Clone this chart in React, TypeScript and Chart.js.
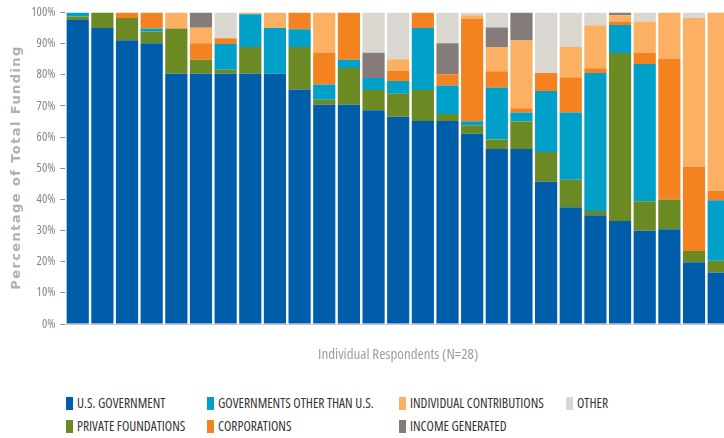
import React, { useEffect, useRef } from 'react';
import { Chart, registerables } from 'chart.js';

Chart.register(...registerables);

const categories = ['1','2','3','4','5','6','7','8','9','10','11','12','13','14','15','16','17','18','19','20','21','22','23','24','25','26','27'];

const usGovernment = [97.6,95.0,91.1,90.1,80.3,80.3,80.3,80.3,80.3,75.3,70.4,70.4,68.6,66.5,65.2,65.2,61.1,56.2,56.2,45.7,37.5,34.9,33.1,29.9,30.4,19.8,16.5];
const privateFoundations = [1.1,5.0,7.1,3.8,14.6,4.5,1.3,8.6,0,13.6,1.6,11.8,6.5,7.4,9.9,2.2,2.7,3.0,8.8,9.5,8.8,1.4,53.9,9.5,9.6,3.6,3.8];
const governmentsOther = [1.3,0,0,1.0,0,0,8.3,10.5,14.7,5.7,4.9,2.6,3.9,4.1,19.9,9.2,1.3,16.7,2.9,19.6,21.6,44.3,9.0,44.1,0,0,19.4];
const corporations = [0,0,1.8,5.1,0,5.3,1.8,0,0,5.4,10.1,15.2,0,3.2,5.0,3.6,32.8,5.2,1.4,5.8,11.3,1.5,1.1,3.6,45.1,27.0,3.0];
const individualContributions = [0,0,0,0,5.1,5.0,0,0.6,5.0,0,13.0,0,0,3.8,0,0,1.2,7.8,21.7,0,9.7,13.8,2.0,10.0,14.9,47.8,57.3];
const incomeGenerated = [0,0,0,0,0,4.9,0,0,0,0,0,0,8.1,0,0,9.9,0,6.3,9.0,0,0,0,0.9,0,0,0,0];
const other = [0,0,0,0,0,0,8.3,0,0,0,0,0,12.9,15.0,0,9.9,0.9,4.8,0,19.4,11.1,4.1,0,2.9,0,1.8,0];

const yTickLabels = ['0%','10%','20%','30%','40%','50%','60%','70%','80%','90%','100%'];

const seriesNames = ['U.S. GOVERNMENT','PRIVATE FOUNDATIONS','GOVERNMENTS OTHER THAN U.S.','CORPORATIONS','INDIVIDUAL CONTRIBUTIONS','INCOME GENERATED','OTHER'];
const seriesColors = ['#005DAA','#6C8A24','#00A0C9','#F58220','#FBB064','#857C79','#D9D7CF'];
const seriesData = [usGovernment, privateFoundations, governmentsOther, corporations, individualContributions, incomeGenerated, other];

const FAMILY = '"Open Sans", "Liberation Sans", sans-serif';

const legendItems = [
  { name: 'U.S. GOVERNMENT', color: '#005DAA', left: 66, top: 397 },
  { name: 'GOVERNMENTS OTHER THAN U.S.', color: '#00A0C9', left: 207, top: 397 },
  { name: 'INDIVIDUAL CONTRIBUTIONS', color: '#FBB064', left: 399, top: 397 },
  { name: 'OTHER', color: '#D9D7CF', left: 566, top: 397 },
  { name: 'PRIVATE FOUNDATIONS', color: '#6C8A24', left: 66, top: 420 },
  { name: 'CORPORATIONS', color: '#F58220', left: 207, top: 420 },
  { name: 'INCOME GENERATED', color: '#857C79', left: 399, top: 420 },
];

const yTitlePlugin = {
  id: 'yTitle',
  afterDraw(chart: any) {
    const { ctx, chartArea } = chart;
    const text = 'Percentage of Total Funding';
    ctx.save();
    ctx.font = 'bold 13px "DejaVu Sans", sans-serif';
    const target = 243;
    const w = ctx.measureText(text).width;
    const spacing = (target - w) / (text.length - 1);
    try { (ctx as any).letterSpacing = spacing.toFixed(2) + 'px'; } catch (e) {}
    ctx.fillStyle = '#B7AEA5';
    ctx.textAlign = 'center';
    ctx.textBaseline = 'alphabetic';
    ctx.translate(19.5, (chartArea.top + chartArea.bottom) / 2);
    ctx.rotate(-Math.PI / 2);
    ctx.fillText(text, spacing / 2, 0);
    ctx.restore();
  },
};

export default function App() {
  const ref = useRef<HTMLCanvasElement | null>(null);

  useEffect(() => {
    if (!ref.current) return;
    const chart = new Chart(ref.current, {
      type: 'bar',
      data: {
        labels: categories,
        datasets: seriesData.map((d, i) => ({
          label: seriesNames[i],
          data: d,
          backgroundColor: seriesColors[i],
          borderWidth: 0,
          categoryPercentage: 1,
          barPercentage: 0.9,
        })),
      },
      options: {
        animation: false,
        responsive: false,
        maintainAspectRatio: false,
        layout: { padding: { top: 12, right: 9, left: 0, bottom: 0 } },
        plugins: {
          legend: { display: false },
          tooltip: { enabled: false },
        },
        scales: {
          x: {
            stacked: true,
            grid: { display: false },
            border: { display: true, color: '#C9C9C9' },
            ticks: { display: false },
            title: {
              display: true,
              text: 'Individual Respondents (N=28)',
              color: '#A39D98',
              font: { family: FAMILY, size: 15, weight: 'condensed' as any },
              padding: { top: 0, bottom: 4 },
            },
            afterFit: (s: any) => { s.height = 44; },
          },
          y: {
            stacked: true,
            min: 0,
            max: 100,
            ticks: {
              stepSize: 10,
              padding: 5,
              color: '#8A8480',
              font: { family: FAMILY, size: 12.5, weight: 'condensed' as any },
              callback: (v: any) => yTickLabels[Math.round(Number(v) / 10)],
            },
            grid: { drawOnChartArea: false, drawTicks: true, tickLength: 5, color: '#8D8D8D' },
            border: { display: false },
            afterFit: (s: any) => { s.width = 65.4; },
          },
        },
      },
      plugins: [yTitlePlugin],
    });
    return () => chart.destroy();
  }, []);

  return (
    <div style={{ position: 'fixed', left: 0, top: 0, width: 724, height: 438, overflow: 'hidden', background: '#fff' }}>
      <canvas ref={ref} width={740} height={368} style={{ position: 'absolute', left: 0, top: 0, width: 740, height: 368 }} />
      {legendItems.map((it) => (
        <div key={it.name} style={{ position: 'absolute', left: it.left, top: it.top, height: 13, display: 'flex', alignItems: 'center', whiteSpace: 'nowrap' }}>
          <span style={{ display: 'inline-block', width: 7, height: 13, background: it.color, marginRight: 4 }} />
          <span style={{ fontFamily: FAMILY, fontStretch: 'condensed', fontSize: 13.5, color: '#333333', lineHeight: '13px' }}>{it.name}</span>
        </div>
      ))}
    </div>
  );
}
